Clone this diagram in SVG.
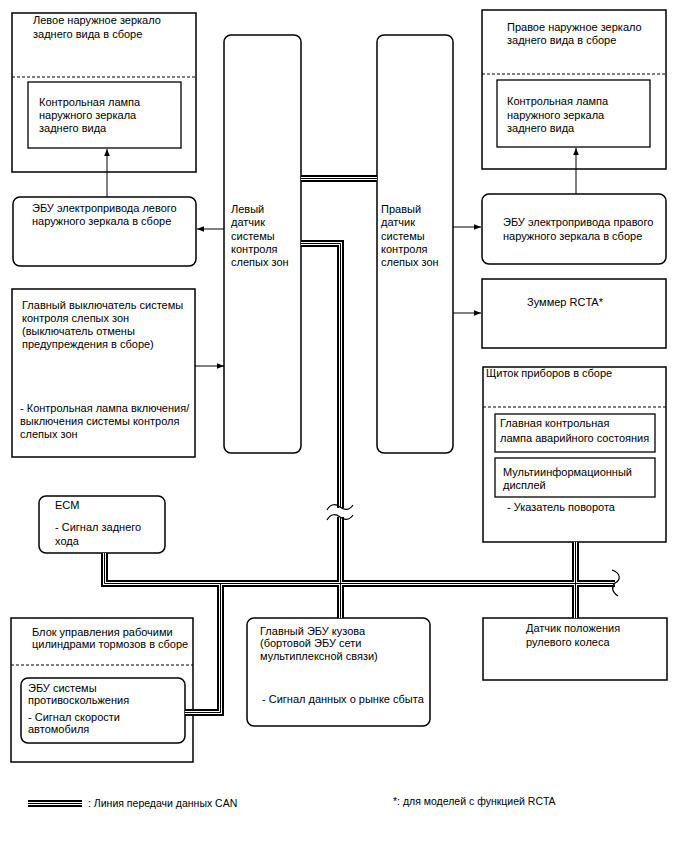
<svg xmlns="http://www.w3.org/2000/svg" xmlns:xlink="http://www.w3.org/1999/xlink" width="688" height="852" viewBox="0 0 688 852">
<style>
text{font-family:"Liberation Sans",Arial,sans-serif;font-size:11px;fill:#000}
.b{fill:#fff;stroke:#000;stroke-width:1.5}
.in{fill:#fff;stroke:#000;stroke-width:1.3}
.d{stroke:#000;stroke-width:1.2;stroke-dasharray:3 2;fill:none}
.a{stroke:#000;stroke-width:1;fill:none;marker-end:url(#ah)}
.cb{stroke:#000;stroke-width:7;fill:none}
.cw{stroke:#fff;stroke-width:3;fill:none}
.cm{stroke:#000;stroke-width:1;fill:none}
.lg{font-size:10.5px}
</style>
<defs>
<marker id="ah" viewBox="0 0 10 10" refX="10" refY="5" markerWidth="9" markerHeight="7" markerUnits="userSpaceOnUse" orient="auto"><path d="M0,1 L10,5 L0,9 Z" fill="#000"/></marker>
<path id="c1" d="M301,178.5 H377"/>
<path id="c2" d="M301,243.5 H340.5 V618"/>
<path id="c3" d="M104.5,553 V583.5 H615"/>
<path id="c4" d="M220.5,583.5 V712.5 H185"/>
<path id="c5" d="M575.5,542 V618"/>
<path id="c6" d="M28,803.5 H82"/>
</defs>
<rect width="688" height="852" fill="#fff"/>

<g id="left-mirror">
<rect class="b" x="12" y="13" width="184" height="159"/>
<line class="d" x1="12" y1="77" x2="196" y2="77"/>
<text x="33" y="24">Левое наружное зеркало</text>
<text x="33" y="38">заднего вида в сборе</text>
</g>
<g id="left-mirror-lamp">
<rect class="in" x="28" y="82" width="153" height="66"/>
<text x="39" y="106">Контрольная лампа</text>
<text x="39" y="119">наружного зеркала</text>
<text x="39" y="132">заднего вида</text>
</g>
<g id="left-mirror-ecu">
<rect class="b" x="13" y="197" width="183" height="69" rx="7"/>
<text x="32" y="212">ЭБУ электропривода левого</text>
<text x="32" y="225">наружного зеркала в сборе</text>
</g>
<g id="left-sensor">
<rect class="b" x="224" y="35" width="77" height="418" rx="7"/>
<text x="231" y="213">Левый</text>
<text x="231" y="226">датчик</text>
<text x="231" y="240">системы</text>
<text x="231" y="253">контроля</text>
<text x="231" y="266">слепых зон</text>
</g>
<g id="right-sensor">
<rect class="b" x="377" y="35" width="76" height="418" rx="7"/>
<text x="381" y="213">Правый</text>
<text x="381" y="226">датчик</text>
<text x="381" y="240">системы</text>
<text x="381" y="253">контроля</text>
<text x="381" y="266">слепых зон</text>
</g>
<g id="right-mirror">
<rect class="b" x="482" y="10" width="184" height="159"/>
<line class="d" x1="482" y1="74" x2="666" y2="74"/>
<text x="507" y="31">Правое наружное зеркало</text>
<text x="507" y="44">заднего вида в сборе</text>
</g>
<g id="right-mirror-lamp">
<rect class="in" x="497" y="80" width="153" height="67"/>
<text x="507" y="105">Контрольная лампа</text>
<text x="507" y="119">наружного зеркала</text>
<text x="507" y="132">заднего вида</text>
</g>
<g id="right-mirror-ecu">
<rect class="b" x="482" y="194" width="184" height="70" rx="7"/>
<text x="503" y="226">ЭБУ электропривода правого</text>
<text x="503" y="240">наружного зеркала в сборе</text>
</g>
<g id="buzzer">
<rect class="b" x="482" y="279" width="184" height="69"/>
<text x="565" y="306" text-anchor="middle">Зуммер RCTA*</text>
</g>
<g id="main-switch">
<rect class="b" x="12" y="289" width="183" height="168"/>
<text x="22" y="309">Главный выключатель системы</text>
<text x="22" y="322">контроля слепых зон</text>
<text x="22" y="335">(выключатель отмены</text>
<text x="22" y="348">предупреждения в сборе)</text>
<text x="20" y="412">- Контрольная лампа включения/</text>
<text x="20" y="425">выключения системы контроля</text>
<text x="20" y="438">слепых зон</text>
</g>
<g id="cluster">
<rect class="b" x="483" y="367" width="183" height="175"/>
<line class="d" x1="483" y1="407" x2="666" y2="407"/>
<text x="486" y="377">Щиток приборов в сборе</text>
<text x="507" y="511">- Указатель поворота</text>
</g>
<g id="master-warning">
<rect class="in" x="495" y="414" width="160" height="38"/>
<text x="500" y="427">Главная контрольная</text>
<text x="500" y="442">лампа аварийного состояния</text>
</g>
<g id="multi-display">
<rect class="in" x="495" y="458" width="160" height="39"/>
<text x="503" y="476">Мультиинформационный</text>
<text x="503" y="489">дисплей</text>
</g>
<g id="ecm">
<rect class="b" x="39" y="496" width="126" height="57" rx="7"/>
<text x="55" y="509">ECM</text>
<text x="55" y="531">- Сигнал заднего</text>
<text x="55" y="545">хода</text>
</g>
<g id="brake-block">
<rect class="b" x="11" y="618" width="182" height="144"/>
<line class="d" x1="11" y1="665" x2="193" y2="665"/>
<text x="32" y="636">Блок управления рабочими</text>
<text x="32" y="648">цилиндрами тормозов в сборе</text>
</g>
<g id="abs-ecu">
<rect class="b" x="21" y="678" width="164" height="65" rx="7"/>
<text x="28" y="692">ЭБУ системы</text>
<text x="28" y="704">противоскольжения</text>
<text x="28" y="721">- Сигнал скорости</text>
<text x="28" y="733">автомобиля</text>
</g>
<g id="body-ecu">
<rect class="b" x="247" y="618" width="183" height="108" rx="7"/>
<text x="260" y="635">Главный ЭБУ кузова</text>
<text x="260" y="647">(бортовой ЭБУ сети</text>
<text x="260" y="660">мультиплексной связи)</text>
<text x="262" y="703">- Сигнал данных о рынке сбыта</text>
</g>
<g id="steering-sensor">
<rect class="b" x="483" y="618" width="184" height="62"/>
<text x="526" y="632">Датчик положения</text>
<text x="526" y="646">рулевого колеса</text>
</g>

<g id="connectors">
<use href="#c1" class="cb"/><use href="#c2" class="cb"/><use href="#c3" class="cb"/><use href="#c4" class="cb"/><use href="#c5" class="cb"/>
<use href="#c1" class="cw"/><use href="#c2" class="cw"/><use href="#c3" class="cw"/><use href="#c4" class="cw"/><use href="#c5" class="cw"/>
<use href="#c1" class="cm"/><use href="#c2" class="cm"/><use href="#c3" class="cm"/><use href="#c4" class="cm"/><use href="#c5" class="cm"/>
<rect x="330" y="508" width="21" height="9" fill="#fff"/>
<path d="M327,510 C331,503 336,504 340,507 C344,510 349,511 353,505" stroke="#000" stroke-width="1.2" fill="none"/>
<path d="M327,520 C331,513 336,514 340,517 C344,520 349,521 353,515" stroke="#000" stroke-width="1.2" fill="none"/>
<rect x="616" y="576" width="10" height="14" fill="#fff"/>
<path d="M612,570 C621,573 621,580 615,583 C611,587 612,592 618,596" stroke="#000" stroke-width="1.2" fill="none"/>
<line class="a" x1="107" y1="197" x2="107" y2="149"/>
<line class="a" x1="224" y1="229" x2="197" y2="229"/>
<line class="a" x1="195" y1="366" x2="224" y2="366"/>
<line class="a" x1="453" y1="227" x2="481" y2="227"/>
<line class="a" x1="453" y1="313" x2="481" y2="313"/>
<line class="a" x1="576" y1="194" x2="576" y2="148"/>
</g>

<g id="legend">
<use href="#c6" class="cb"/><use href="#c6" class="cw"/><use href="#c6" class="cm"/>
<text class="lg" x="88" y="807">: Линия передачи данных CAN</text>
<text class="lg" x="393" y="805">*: для моделей с функцией RCTA</text>
</g>
</svg>
